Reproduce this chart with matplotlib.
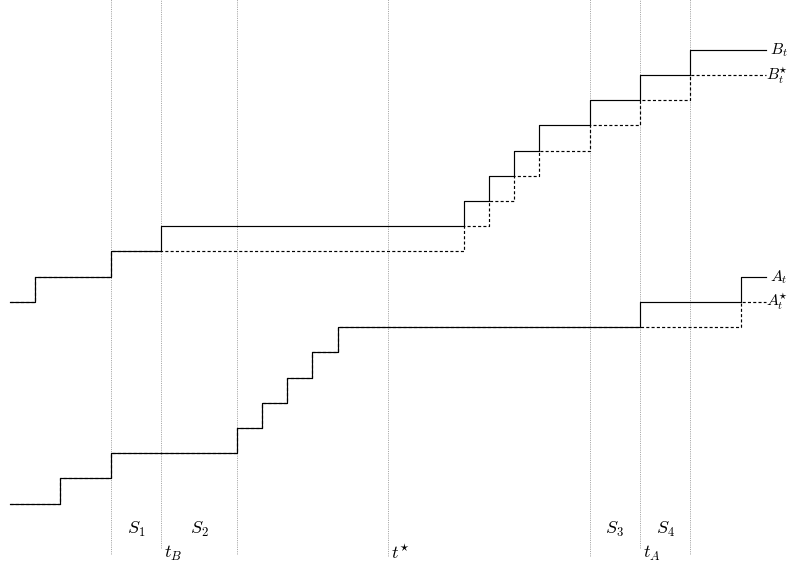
import matplotlib
matplotlib.use("Agg")
import matplotlib.pyplot as plt

plt.rcParams['mathtext.fontset'] = 'cm'
plt.rcParams['lines.scale_dashes'] = False

# Step data (breakpoints on a unit grid, levels per segment)
t_end = 30
A_x = [0, 2, 4, 9, 10, 11, 12, 13, 25, 29]
A_y = [0, 1, 2, 3, 4, 5, 6, 7, 8, 9]
Astar_x = [0, 2, 4, 9, 10, 11, 12, 13, 29]
Astar_y = [0, 1, 2, 3, 4, 5, 6, 7, 8]
B_x = [0, 1, 4, 6, 18, 19, 20, 21, 23, 25, 27]
B_y = [8, 9, 10, 11, 12, 13, 14, 15, 16, 17, 18]
Bstar_x = [0, 1, 4, 18, 19, 20, 21, 23, 25, 27]
Bstar_y = [8, 9, 10, 11, 12, 13, 14, 15, 16, 17]

# Vertical markers
vlines_x = [4, 6, 9, 15, 23, 25, 27]
vlines_bottom = [-2.0, -1.75, -2.0, -2.1, -2.1, -1.75, -2.0]

S_labels = [r'$S_1$', r'$S_2$', r'$S_3$', r'$S_4$']
S_pos = [5, 7.5, 24, 26]
t_labels = [r'$t_B$', r'$t^{\!\star}$', r'$t_A$']
t_pos = [6, 15, 25]

fig = plt.figure(figsize=(7.88, 5.69), dpi=100)
ax = fig.add_axes([0, 0, 1, 1])
u = 25.2
ax.set_xlim(-10 / u, (788 - 10) / u)
ax.set_ylim((503.5 - 569) / u, 503.5 / u)
ax.axis('off')

for x, yb in zip(vlines_x, vlines_bottom):
    ax.plot([x, x], [yb, 21], color='0.6', lw=0.6, dashes=(0.8, 0.8), zorder=1)

def step(ax, xs, ys, **kw):
    ax.plot(list(xs) + [t_end], list(ys) + [ys[-1]], drawstyle='steps-post', **kw)

step(ax, A_x, A_y, color='black', lw=0.85, zorder=3)
step(ax, B_x, B_y, color='black', lw=0.85, zorder=3)
step(ax, Astar_x, Astar_y, color='black', lw=0.85, dashes=(2.2, 1.6), zorder=4)
step(ax, Bstar_x, Bstar_y, color='black', lw=0.85, dashes=(2.2, 1.6), zorder=4)

fs = 11.5
xl = t_end + 0.15
xr = (787.6 - 10) / u
ax.text(xl, B_y[-1], r'$B_t$', fontsize=fs, va='center', ha='left')
ax.text(xr, Bstar_y[-1], r'$B_t^{\!\!\star}$', fontsize=fs, va='center', ha='right')
ax.text(xl, A_y[-1], r'$A_t$', fontsize=fs, va='center', ha='left')
ax.text(xr, Astar_y[-1], r'$A_t^{\!\!\star}$', fontsize=fs, va='center', ha='right')

for lab, x in zip(S_labels, S_pos):
    ax.text(x, -1.05, lab, fontsize=13, va='center', ha='center')
for lab, x in zip(t_labels, t_pos):
    ax.text(x + 0.1, -2.0, lab, fontsize=13, va='center', ha='left')

fig.savefig('out.png', dpi=100)
